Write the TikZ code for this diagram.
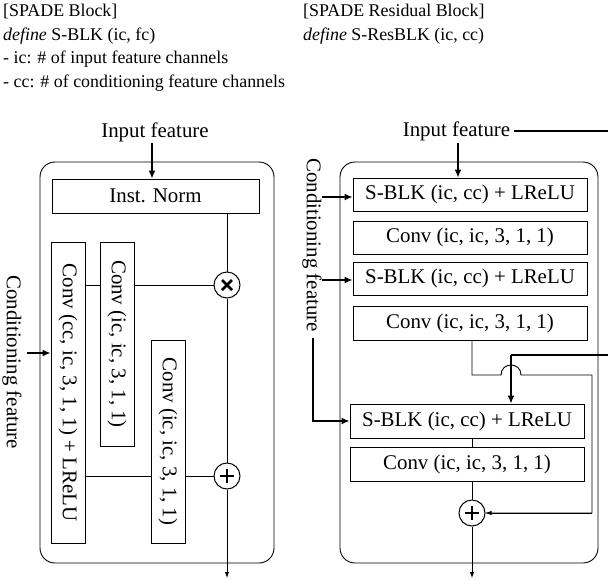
\documentclass[tikz,border=0pt]{standalone}
\usepackage{fontspec}
\setmainfont{Liberation Serif}
\usetikzlibrary{arrows.meta}
\tikzset{
  hdr/.style={anchor=base west, inner sep=0pt, font=\fontsize{17.9}{20}\selectfont},
  lbl/.style={inner sep=0pt, font=\fontsize{20.9}{24}\selectfont},
  blk/.style={draw, line width=0.8pt, inner sep=0pt},
  frame/.style={draw, line width=0.9pt, rounded corners=15pt, inner sep=0pt},
  thin/.style={line width=0.9pt},
  thinarr/.style={line width=0.9pt, -{Latex[length=6pt,width=4.5pt]}},
  thickarr/.style={line width=2pt, -{Latex[length=8pt,width=7pt]}},
  thickln/.style={line width=2pt},
  opcirc/.style={draw, circle, line width=1pt, minimum size=26pt, inner sep=0pt},
  opsym/.style={line width=2.6pt}
}
\begin{document}
\begin{tikzpicture}[x=1pt,y=-1pt]
\useasboundingbox (0,0) rectangle (608,579);
% header
\node[hdr] (h1) at (3,16) {[SPADE Block]};
\node[hdr] (h2) at (3,40) {\textit{define} S-BLK (ic, fc)};
\node[hdr] (h3) at (3,63) {- ic: \# of input feature channels};
\node[hdr] (h4) at (3,87) {- cc: \# of conditioning feature channels};
\node[hdr] (h5) at (303,16) {[SPADE Residual Block]};
\node[hdr] (h6) at (303,40) {\textit{define} S-ResBLK (ic, cc)};

% ===== left panel =====
\node[frame, minimum width=234pt, minimum height=401pt] (fl) at (157,362.5) {};
\node[lbl, anchor=base] (inL) at (155,137) {Input feature};
\node[blk, minimum width=207pt, minimum height=34pt] (norm) at (155.5,196) {};
\node[lbl] at (norm.center) {Inst. Norm};
\node[blk, minimum width=34pt, minimum height=301pt] (c1) at (68,392.5) {};
\node[lbl, rotate=-90] at (c1.center) {Conv (cc, ic, 3, 1, 1) + LReLU};
\node[blk, minimum width=34pt, minimum height=204pt] (c2) at (117,344) {};
\node[lbl, rotate=-90] at (c2.center) {Conv (ic, ic, 3, 1, 1)};
\node[blk, minimum width=34pt, minimum height=203pt] (c3) at (168,441.5) {};
\node[lbl, rotate=-90] at (c3.center) {Conv (ic, ic, 3, 1, 1)};
\node[opcirc] (mul) at (227,285) {};
\draw[opsym] ([shift={(-5,-5)}]mul.center) -- ([shift={(5,5)}]mul.center);
\draw[opsym] ([shift={(-5,5)}]mul.center) -- ([shift={(5,-5)}]mul.center);
\node[opcirc] (add) at (227,476) {};
\draw[opsym] ([shift={(-7,0)}]add.center) -- ([shift={(7,0)}]add.center);
\draw[opsym] ([shift={(0,-7)}]add.center) -- ([shift={(0,7)}]add.center);
\node[lbl, rotate=-90] (condL) at (12,362) {Conditioning feature};
\coordinate (cL) at (27,353);
\coordinate (outL) at (227,578);
\coordinate (inLa) at (152,143);

\draw[thickarr] (inLa) -- (inLa |- norm.north);
\draw[thin] (mul |- norm.south) -- (mul.north);
\draw[thin] (mul.south) -- (add.north);
\draw[thinarr] (add.south) -- (outL);
\draw[thin] (c1.east |- mul) -- (c2.west |- mul);
\draw[thin] (c2.east |- mul) -- (mul.west);
\draw[thin] (c1.east |- add) -- (c3.west |- add);
\draw[thin] (c3.east |- add) -- (add.west);
\draw[thickarr] (cL) -- (cL -| c1.west);

% ===== right panel =====
\node[frame, minimum width=258pt, minimum height=401pt] (fr) at (469,362.5) {};
\node[lbl, anchor=base] (inR) at (456.5,136) {Input feature};
\node[blk, minimum width=234pt, minimum height=33pt] (s1) at (470,194.5) {};
\node[lbl] at (s1.center) {S-BLK (ic, cc) + LReLU};
\node[blk, minimum width=234pt, minimum height=33pt] (k1) at (470,237.5) {};
\node[lbl] at (k1.center) {Conv (ic, ic, 3, 1, 1)};
\node[blk, minimum width=234pt, minimum height=33pt] (s2) at (470,278.5) {};
\node[lbl] at (s2.center) {S-BLK (ic, cc) + LReLU};
\node[blk, minimum width=234pt, minimum height=34pt] (k2) at (470,323) {};
\node[lbl] at (k2.center) {Conv (ic, ic, 3, 1, 1)};
\node[blk, minimum width=234pt, minimum height=34pt] (s3) at (467,421) {};
\node[lbl] at (s3.center) {S-BLK (ic, cc) + LReLU};
\node[blk, minimum width=234pt, minimum height=34pt] (k3) at (467,464) {};
\node[lbl] at (k3.center) {Conv (ic, ic, 3, 1, 1)};
\node[opcirc] (add2) at (472,513) {};
\draw[opsym] ([shift={(-7,0)}]add2.center) -- ([shift={(7,0)}]add2.center);
\draw[opsym] ([shift={(0,-7)}]add2.center) -- ([shift={(0,7)}]add2.center);
\node[lbl, rotate=-90] (condR) at (312,245) {Conditioning feature};

\coordinate (inRa) at (458,143);
\coordinate (rt1) at (616,131);
\coordinate (rt2) at (616,355);
\coordinate (hop) at (511,375);
\coordinate (col) at (472,375);
\coordinate (rgt) at (592,375);
\coordinate (cr1) at (322,197);
\coordinate (cr2) at (322,280);
\coordinate (cr3) at (313,338);
\coordinate (outR) at (472,578);

\draw[thickarr] (inRa) -- (inRa |- s1.north);
\draw[thickln] (inR.east |- rt1) ++(4,0) -- (rt1) -- (rt2) -- (rt2 -| hop);
\draw[thickarr] (rt2 -| hop) -- (hop |- s3.north);
\draw[thickarr] (cr1) -- (cr1 -| s1.west);
\draw[thickarr] (cr2) -- (cr2 -| s2.west);
\draw[thickarr] (cr3) |- (s3.west);
\draw[thin] (col |- k2.south) -- (col) -- ([xshift=-10pt]hop)
  .. controls ([shift={(-10,-13.3)}]hop) and ([shift={(10,-13.3)}]hop) .. ([xshift=10pt]hop)
  -- (rgt) |- (add2.east) ;
\draw[thinarr] (rgt |- add2) -- (add2.east);
\draw[thin] (col |- s3.south) -- (col |- k3.north);
\draw[thin] (col |- k3.south) -- (add2.north);
\draw[thinarr] (add2.south) -- (outR);
\end{tikzpicture}
\end{document}
